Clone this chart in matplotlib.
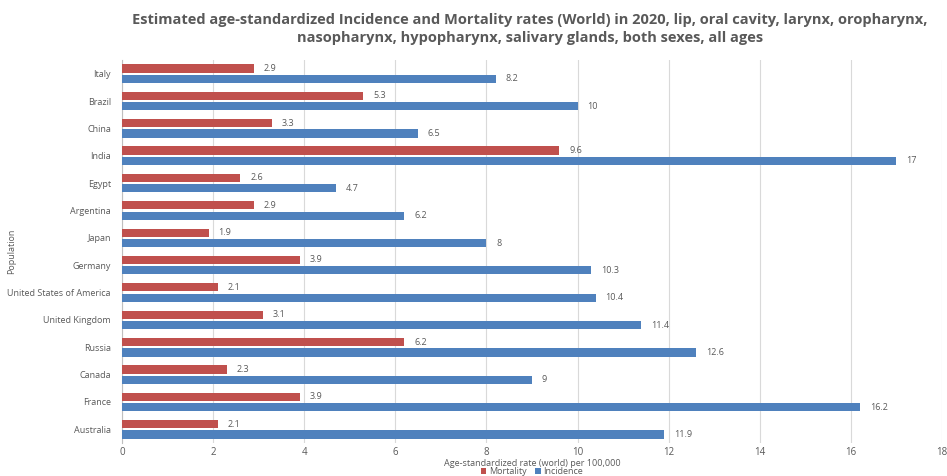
import matplotlib
matplotlib.use("Agg")
import matplotlib.pyplot as plt
import numpy as np

countries = ["Italy", "Brazil", "China", "India", "Egypt", "Argentina", "Japan",
             "Germany", "United States of America", "United Kingdom", "Russia",
             "Canada", "France", "Australia"]
mortality = [2.9, 5.3, 3.3, 9.6, 2.6, 2.9, 1.9, 3.9, 2.1, 3.1, 6.2, 2.3, 3.9, 2.1]
incidence = [8.2, 10, 6.5, 17, 4.7, 6.2, 8, 10.3, 10.4, 11.4, 12.6, 9, 16.2, 11.9]
x_ticks = [0, 2, 4, 6, 8, 10, 12, 14, 16, 18]

RED = "#C0504D"
BLUE = "#4F81BD"
TXT = "#595959"

plt.rcParams["font.family"] = ["Open Sans", "DejaVu Sans"]

fig = plt.figure(figsize=(9.47, 4.76), dpi=100)
ax = fig.add_axes([122 / 947, 1 - 443 / 476, 820 / 947, 383 / 476])

y = np.arange(len(countries))
h = 0.3
off = 0.19
ax.barh(y - off, mortality, height=h, color=RED, label="Mortality", zorder=3)
ax.barh(y + off, incidence, height=h, color=BLUE, label="Incidence", zorder=3)

def fmt(v):
    return f"{v:g}"

for yi, m, inc in zip(y, mortality, incidence):
    ax.annotate(fmt(m), (m, yi - off), xytext=(7, 0), textcoords="offset points",
                va="center", ha="left", fontsize=6.5, color=TXT)
    ax.annotate(fmt(inc), (inc, yi + off), xytext=(7, 0), textcoords="offset points",
                va="center", ha="left", fontsize=6.5, color=TXT)

ax.set_ylim(len(countries) - 0.5, -0.5)
ax.set_xlim(0, 18)
ax.set_xticks(x_ticks)
ax.set_xticklabels([str(t) for t in x_ticks], fontsize=7, color=TXT)
ax.set_yticks(y)
ax.set_yticklabels(countries, fontsize=6.5, color=TXT)
ax.tick_params(axis="both", length=0)
ax.tick_params(axis="x", pad=3)
ax.tick_params(axis="y", pad=8)

ax.grid(axis="x", color="#D9D9D9", linewidth=0.8, zorder=0)
for s in ["top", "right", "bottom"]:
    ax.spines[s].set_visible(False)
ax.spines["left"].set_color("#BFBFBF")
ax.spines["left"].set_linewidth(0.8)

fig.text(532 / 947, 1 - 464 / 476, "Age-standardized rate (world) per 100,000",
         ha="center", va="center", fontsize=6.5, color=TXT)
fig.text(12 / 947, 1 - 251 / 476, "Population", rotation=90,
         ha="center", va="center", fontsize=6.5, color=TXT)

fig.legend(loc="center", bbox_to_anchor=(532 / 947, 1 - 472 / 476), ncol=2,
           frameon=False, fontsize=6.5, handlelength=0.6, handleheight=0.6,
           handletextpad=0.3, columnspacing=1.0, borderpad=0,
           labelcolor=TXT)

fig.text(530 / 947, 1 - 29 / 476,
         "Estimated age-standardized Incidence and Mortality rates (World) in 2020, lip, oral cavity, larynx, oropharynx,\n"
         "nasopharynx, hypopharynx, salivary glands, both sexes, all ages",
         ha="center", va="center", fontsize=10.5, fontweight="bold", color=TXT,
         linespacing=1.45)

fig.savefig("out.png", dpi=100, facecolor="white")
